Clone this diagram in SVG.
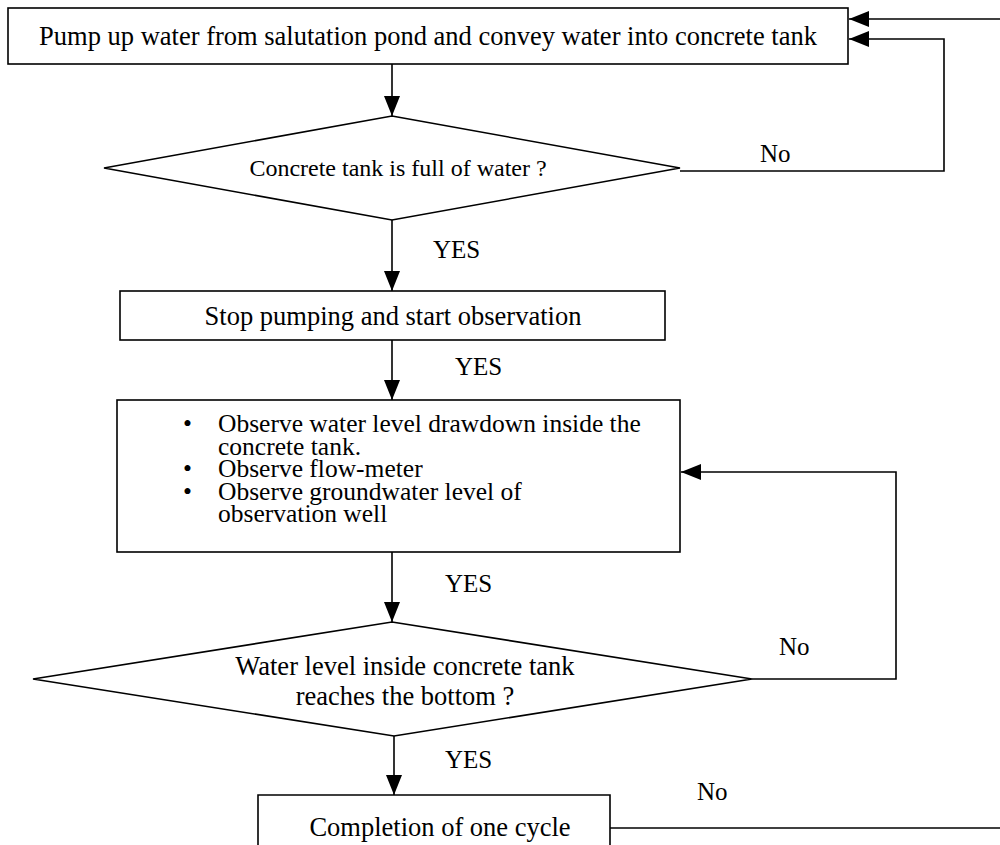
<svg xmlns="http://www.w3.org/2000/svg" width="1000" height="845" viewBox="0 0 1000 845">
<defs>
<marker id="ah" viewBox="0 0 20 16" refX="20" refY="8" markerWidth="20" markerHeight="16" markerUnits="userSpaceOnUse" orient="auto">
<path d="M0,0 L20,8 L0,16 Z" fill="#000"/>
</marker>
<style>
.n{fill:#fff;stroke:#000;stroke-width:1.6}
.c{fill:none;stroke:#000;stroke-width:1.6}
text{font-family:"Liberation Serif","Times New Roman",serif;fill:#000}
.t{font-size:26.5px;text-anchor:middle}
.d{font-size:24px;text-anchor:middle}
.b{font-size:25.5px}
.l{font-size:25px}
</style>
</defs>
<rect width="1000" height="845" fill="#fff"/>
<g id="connectors">
<line class="c" x1="392" y1="64" x2="392" y2="116" marker-end="url(#ah)"/>
<polyline class="c" points="680,171 944,171 944,39 849,39" marker-end="url(#ah)"/>
<line class="c" x1="1000" y1="19" x2="849" y2="19" marker-end="url(#ah)"/>
<line class="c" x1="392" y1="220" x2="392" y2="291" marker-end="url(#ah)"/>
<line class="c" x1="392" y1="340" x2="392" y2="400" marker-end="url(#ah)"/>
<line class="c" x1="392" y1="552" x2="392" y2="622" marker-end="url(#ah)"/>
<polyline class="c" points="752,679 896,679 896,472 681,472" marker-end="url(#ah)"/>
<line class="c" x1="394" y1="736" x2="394" y2="795" marker-end="url(#ah)"/>
<line class="c" x1="610" y1="828" x2="1000" y2="828"/>
<text class="l" x="760" y="162">No</text>
<text class="l" x="433" y="258">YES</text>
<text class="l" x="455" y="375">YES</text>
<text class="l" x="445" y="592">YES</text>
<text class="l" x="779" y="655">No</text>
<text class="l" x="445" y="768">YES</text>
<text class="l" x="697" y="800">No</text>
</g>
<g id="n1">
<rect class="n" x="8" y="8" width="840" height="56"/>
<text class="t" x="428" y="45">Pump up water from salutation pond and convey water into concrete tank</text>
</g>
<g id="n2">
<polygon class="n" points="392,116 680,168 392,220 104,168"/>
<text class="d" x="398" y="176">Concrete tank is full of water ?</text>
</g>
<g id="n3">
<rect class="n" x="120" y="291" width="545" height="49"/>
<text class="t" x="393" y="325">Stop pumping and start observation</text>
</g>
<g id="n4">
<rect class="n" x="117" y="400" width="563" height="152"/>
<g class="b">
<text x="183" y="432">•</text>
<text x="218" y="432">Observe water level drawdown inside the</text>
<text x="218" y="455">concrete tank.</text>
<text x="183" y="477">•</text>
<text x="218" y="477">Observe flow-meter</text>
<text x="183" y="500">•</text>
<text x="218" y="500">Observe groundwater level of</text>
<text x="218" y="522">observation well</text>
</g>
</g>
<g id="n5">
<polygon class="n" points="392,622 752,679 394,736 33,679"/>
<text class="t" x="405" y="675">Water level inside concrete tank</text>
<text class="t" x="405" y="705">reaches the bottom ?</text>
</g>
<g id="n6">
<polyline class="n" points="258,845 258,795 610,795 610,845"/>
<text class="t" x="440" y="836">Completion of one cycle</text>
</g>
</svg>
